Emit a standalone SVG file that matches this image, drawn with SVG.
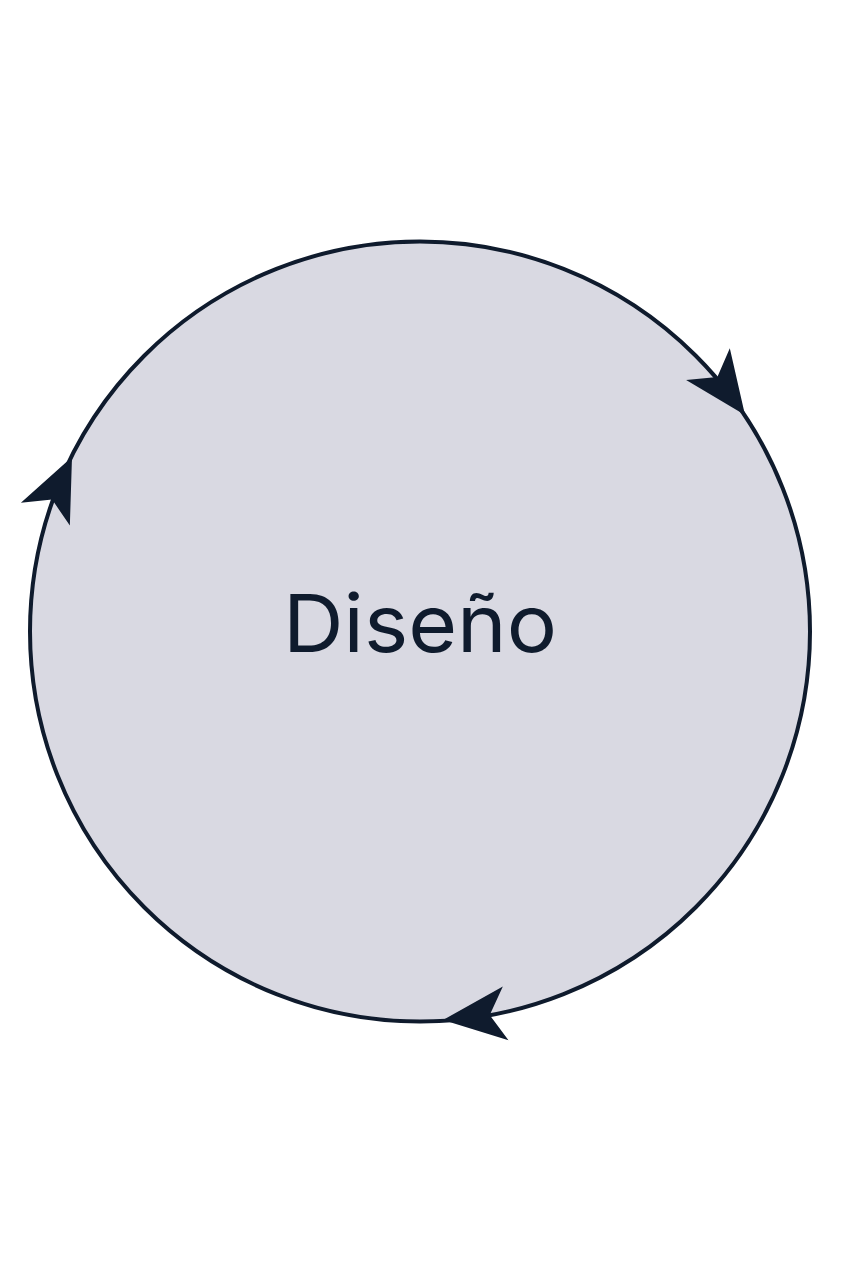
<svg xmlns="http://www.w3.org/2000/svg" width="842" height="1264" viewBox="0 0 842 1264">
<style>
.bg{fill:#ffffff}
.node{fill:#d9d9e2}
.loop{fill:none;stroke:#0f1b2d;stroke-width:4}
.head{fill:#0f1b2d}
.label{font-family:Inter,"Noto Sans","Liberation Sans",sans-serif;font-size:80px;fill:#0f1b2d;text-anchor:middle}
</style>
<defs>
<path id="ah" d="M0,0 L-63,-27 L-47,0 L-63,27 Z"/>
</defs>
<rect class="bg" x="0" y="0" width="842" height="1264"/>
<g id="node-diseno">
<circle class="node" cx="420" cy="631.5" r="390"/>
<text class="label" x="420" y="652" textLength="274" lengthAdjust="spacingAndGlyphs">Diseño</text>
</g>
<g id="connectors">
<circle class="loop" cx="420" cy="631.5" r="390"/>
<use href="#ah" class="head" transform="translate(745,415) rotate(54)"/>
<use href="#ah" class="head" transform="translate(443,1020) rotate(174)"/>
<use href="#ah" class="head" transform="translate(72,457) rotate(-65)"/>
</g>
</svg>
